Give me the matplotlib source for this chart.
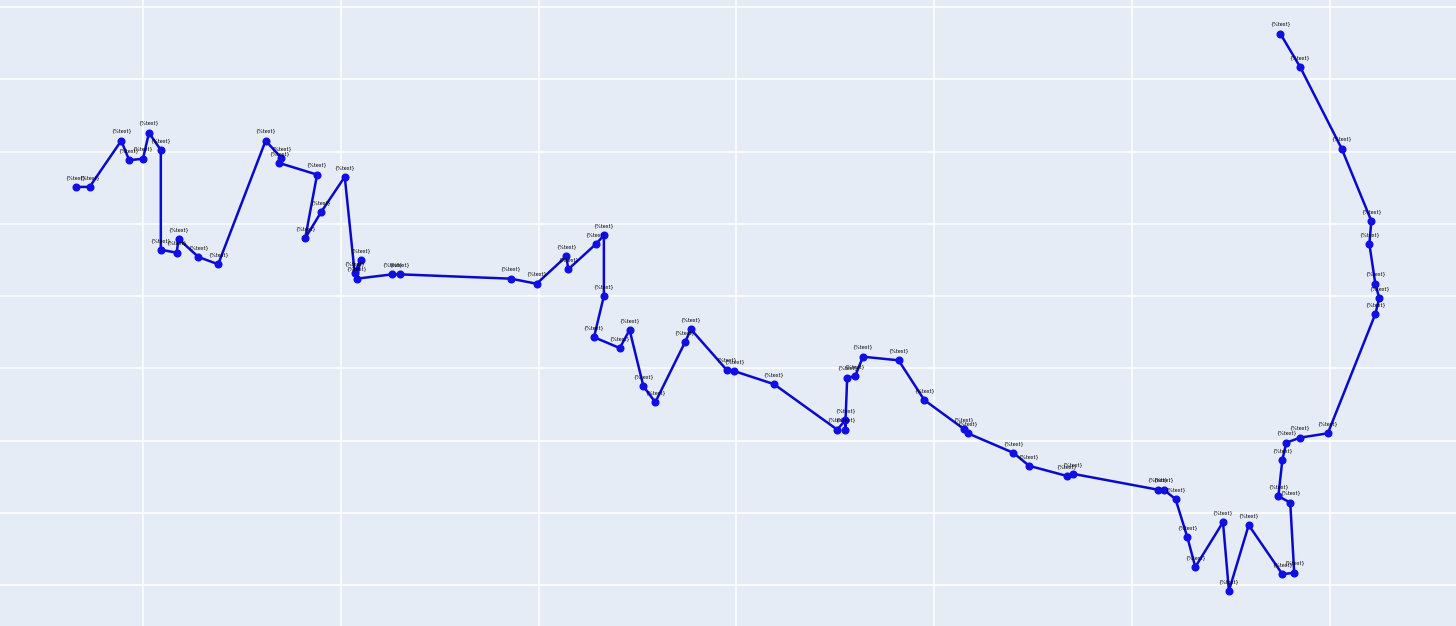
import matplotlib.pyplot as plt

# values (gridlines at whole numbers)
x_vals = [0.66, 0.73, 0.89, 0.93, 1.00, 1.03, 1.09, 1.09, 1.17, 1.18,
          1.28, 1.38, 1.62, 1.70, 1.69, 1.88, 1.82, 1.90, 2.02, 2.07,
          2.10, 2.08, 2.26, 2.30, 2.86, 2.99, 3.14, 3.15, 3.29, 3.33,
          3.33, 3.28, 3.41, 3.46, 3.53, 3.59, 3.74, 3.77, 3.95, 3.99,
          4.19, 4.51, 4.55, 4.55, 4.56, 4.60, 4.64, 4.82, 4.95, 5.15,
          5.17, 5.40, 5.48, 5.67, 5.70, 6.13, 6.16, 6.22, 6.28, 6.32,
          6.46, 6.49, 6.59, 6.76, 6.82, 6.80, 6.74, 6.76, 6.78, 6.85,
          6.99, 7.23, 7.25, 7.23, 7.20, 7.21, 7.06, 6.85, 6.75]
y_vals = [5.51, 5.51, 6.15, 5.88, 5.90, 6.26, 6.02, 4.64, 4.60, 4.79,
          4.54, 4.44, 6.15, 5.91, 5.84, 5.68, 4.80, 5.16, 5.65, 4.32,
          4.50, 4.24, 4.30, 4.30, 4.24, 4.17, 4.55, 4.37, 4.72, 4.84,
          4.00, 3.43, 3.28, 3.53, 2.75, 2.53, 3.36, 3.54, 2.98, 2.96,
          2.78, 2.15, 2.28, 2.15, 2.87, 2.89, 3.16, 3.11, 2.56, 2.16,
          2.10, 1.83, 1.65, 1.51, 1.54, 1.32, 1.32, 1.19, 0.66, 0.25,
          0.87, -0.08, 0.83, 0.15, 0.17, 1.14, 1.23, 1.73, 1.97, 2.04,
          2.10, 3.75, 3.97, 4.17, 4.72, 5.04, 6.04, 7.17, 7.63]
labels = ['{%text}'] * len(x_vals)

fig = plt.figure(figsize=(14.56, 6.26), dpi=100)
ax = fig.add_axes([0, 0, 1, 1])
ax.set_facecolor('#E5ECF6')

ax.plot(x_vals, y_vals, color='#0a0acc', linewidth=1.8, marker='o',
        markersize=4.8, markerfacecolor='#0f0fe6', markeredgecolor='#0f0fe6',
        zorder=3)
for x, y, t in zip(x_vals, y_vals, labels):
    ax.annotate(t, (x, y), xytext=(0, 5), textcoords='offset points',
                ha='center', va='bottom', fontsize=3.5, color='black', zorder=4)

ax.set_xlim(0.277, 7.638)
ax.set_ylim(-0.567, 8.097)
ax.set_xticks(range(1, 8))
ax.set_yticks(range(0, 9))
ax.grid(True, color='white', linewidth=1.1)
ax.set_axisbelow(True)
ax.tick_params(length=0, labelbottom=False, labelleft=False)
for s in ax.spines.values():
    s.set_visible(False)

fig.savefig('out.png', dpi=100)
